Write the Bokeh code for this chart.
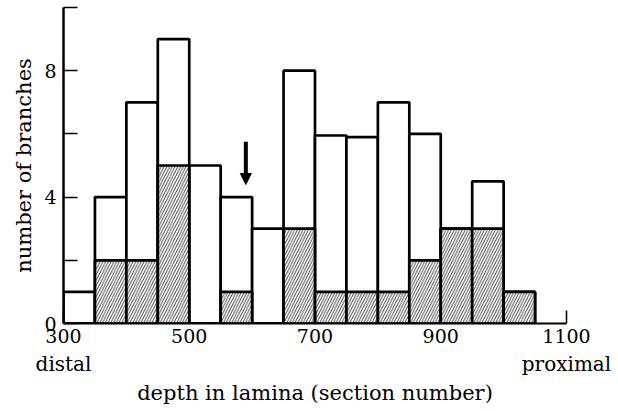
from bokeh.plotting import figure
from bokeh.models import Range1d, FixedTicker, LinearAxis, Arrow, NormalHead
from bokeh.embed import file_html
from bokeh.resources import INLINE

# ---- data ----
bin_edges = [300, 350, 400, 450, 500, 550, 600, 650, 700, 750, 800, 850, 900, 950, 1000, 1050]
total_branches = [1, 4, 7, 9, 5, 4, 3, 8, 5.95, 5.9, 7, 6, 3, 4.5, 1]
hatched_branches = [0, 2, 2, 5, 0, 1, 0, 3, 1, 1, 1, 2, 3, 3, 1]
x_ticks = [300, 500, 700, 900, 1100]
y_ticks = [0, 2, 4, 6, 8, 10]
y_tick_labels = {0: "0", 2: "", 4: "4", 6: "", 8: "8", 10: ""}
end_labels = {300: "distal", 1100: "proximal"}
arrow_x = 590
arrow_y_start = 5.75
arrow_y_end = 4.4

FONT = "DejaVu Serif"

p = figure(width=618, height=411, output_backend="svg", toolbar_location=None,
           x_range=Range1d(300, 1100), y_range=Range1d(0, 10),
           min_border_left=63, min_border_right=52, min_border_top=7,
           min_border_bottom=88)
p.outline_line_color = None
p.grid.visible = False
p.background_fill_color = "white"

lefts = bin_edges[:-1]
rights = bin_edges[1:]

p.quad(left=lefts, right=rights, bottom=0, top=total_branches,
       fill_color="white", line_color="black", line_width=2.7)
p.quad(left=lefts, right=rights, bottom=0, top=hatched_branches,
       fill_color="white", line_color="black", line_width=2.7,
       hatch_pattern="/", hatch_color="black", hatch_scale=5.5, hatch_weight=0.75)

p.add_layout(Arrow(end=NormalHead(size=11, fill_color="black", line_color="black"),
                   x_start=arrow_x, y_start=arrow_y_start,
                   x_end=arrow_x, y_end=arrow_y_end,
                   line_width=4, line_color="black"))

# main x axis
xa = p.xaxis[0]
xa.ticker = FixedTicker(ticks=x_ticks)
xa.major_tick_in = 13
xa.major_tick_out = 0
xa.minor_tick_line_color = None
xa.major_tick_line_width = 1.5
xa.major_tick_line_color = "black"
xa.axis_line_width = 2
xa.axis_line_color = "black"
xa.major_label_standoff = 5
xa.major_label_text_font = FONT
xa.major_label_text_font_size = "19px"
xa.major_label_text_color = "black"

# second axis carrying the end labels and the axis title
xb = LinearAxis(ticker=FixedTicker(ticks=list(end_labels.keys())),
                major_label_overrides=end_labels)
xb.axis_line_color = None
xb.major_tick_line_color = None
xb.minor_tick_line_color = None
xb.major_tick_in = 0
xb.major_tick_out = 0
xb.major_label_standoff = 6
xb.major_label_text_font = FONT
xb.major_label_text_font_size = "20px"
xb.major_label_text_color = "black"
xb.axis_label = "depth in lamina (section number)"
xb.axis_label_text_font = FONT
xb.axis_label_text_font_style = "normal"
xb.axis_label_text_font_size = "21px"
xb.axis_label_text_color = "black"
xb.axis_label_standoff = 2
p.add_layout(xb, "below")

ya = p.yaxis[0]
ya.ticker = FixedTicker(ticks=y_ticks)
ya.major_label_overrides = y_tick_labels
ya.major_tick_in = 14
ya.major_tick_out = 0
ya.minor_tick_line_color = None
ya.major_tick_line_width = 1.5
ya.major_tick_line_color = "black"
ya.axis_line_width = 2.5
ya.axis_line_color = "black"
ya.major_label_standoff = 7
ya.major_label_text_font = FONT
ya.major_label_text_font_size = "19px"
ya.major_label_text_color = "black"
ya.axis_label = "number of branches"
ya.axis_label_text_font = FONT
ya.axis_label_text_font_style = "normal"
ya.axis_label_text_font_size = "21px"
ya.axis_label_text_color = "black"
ya.axis_label_standoff = 5

open("out.html", "w").write(file_html(p, INLINE))
